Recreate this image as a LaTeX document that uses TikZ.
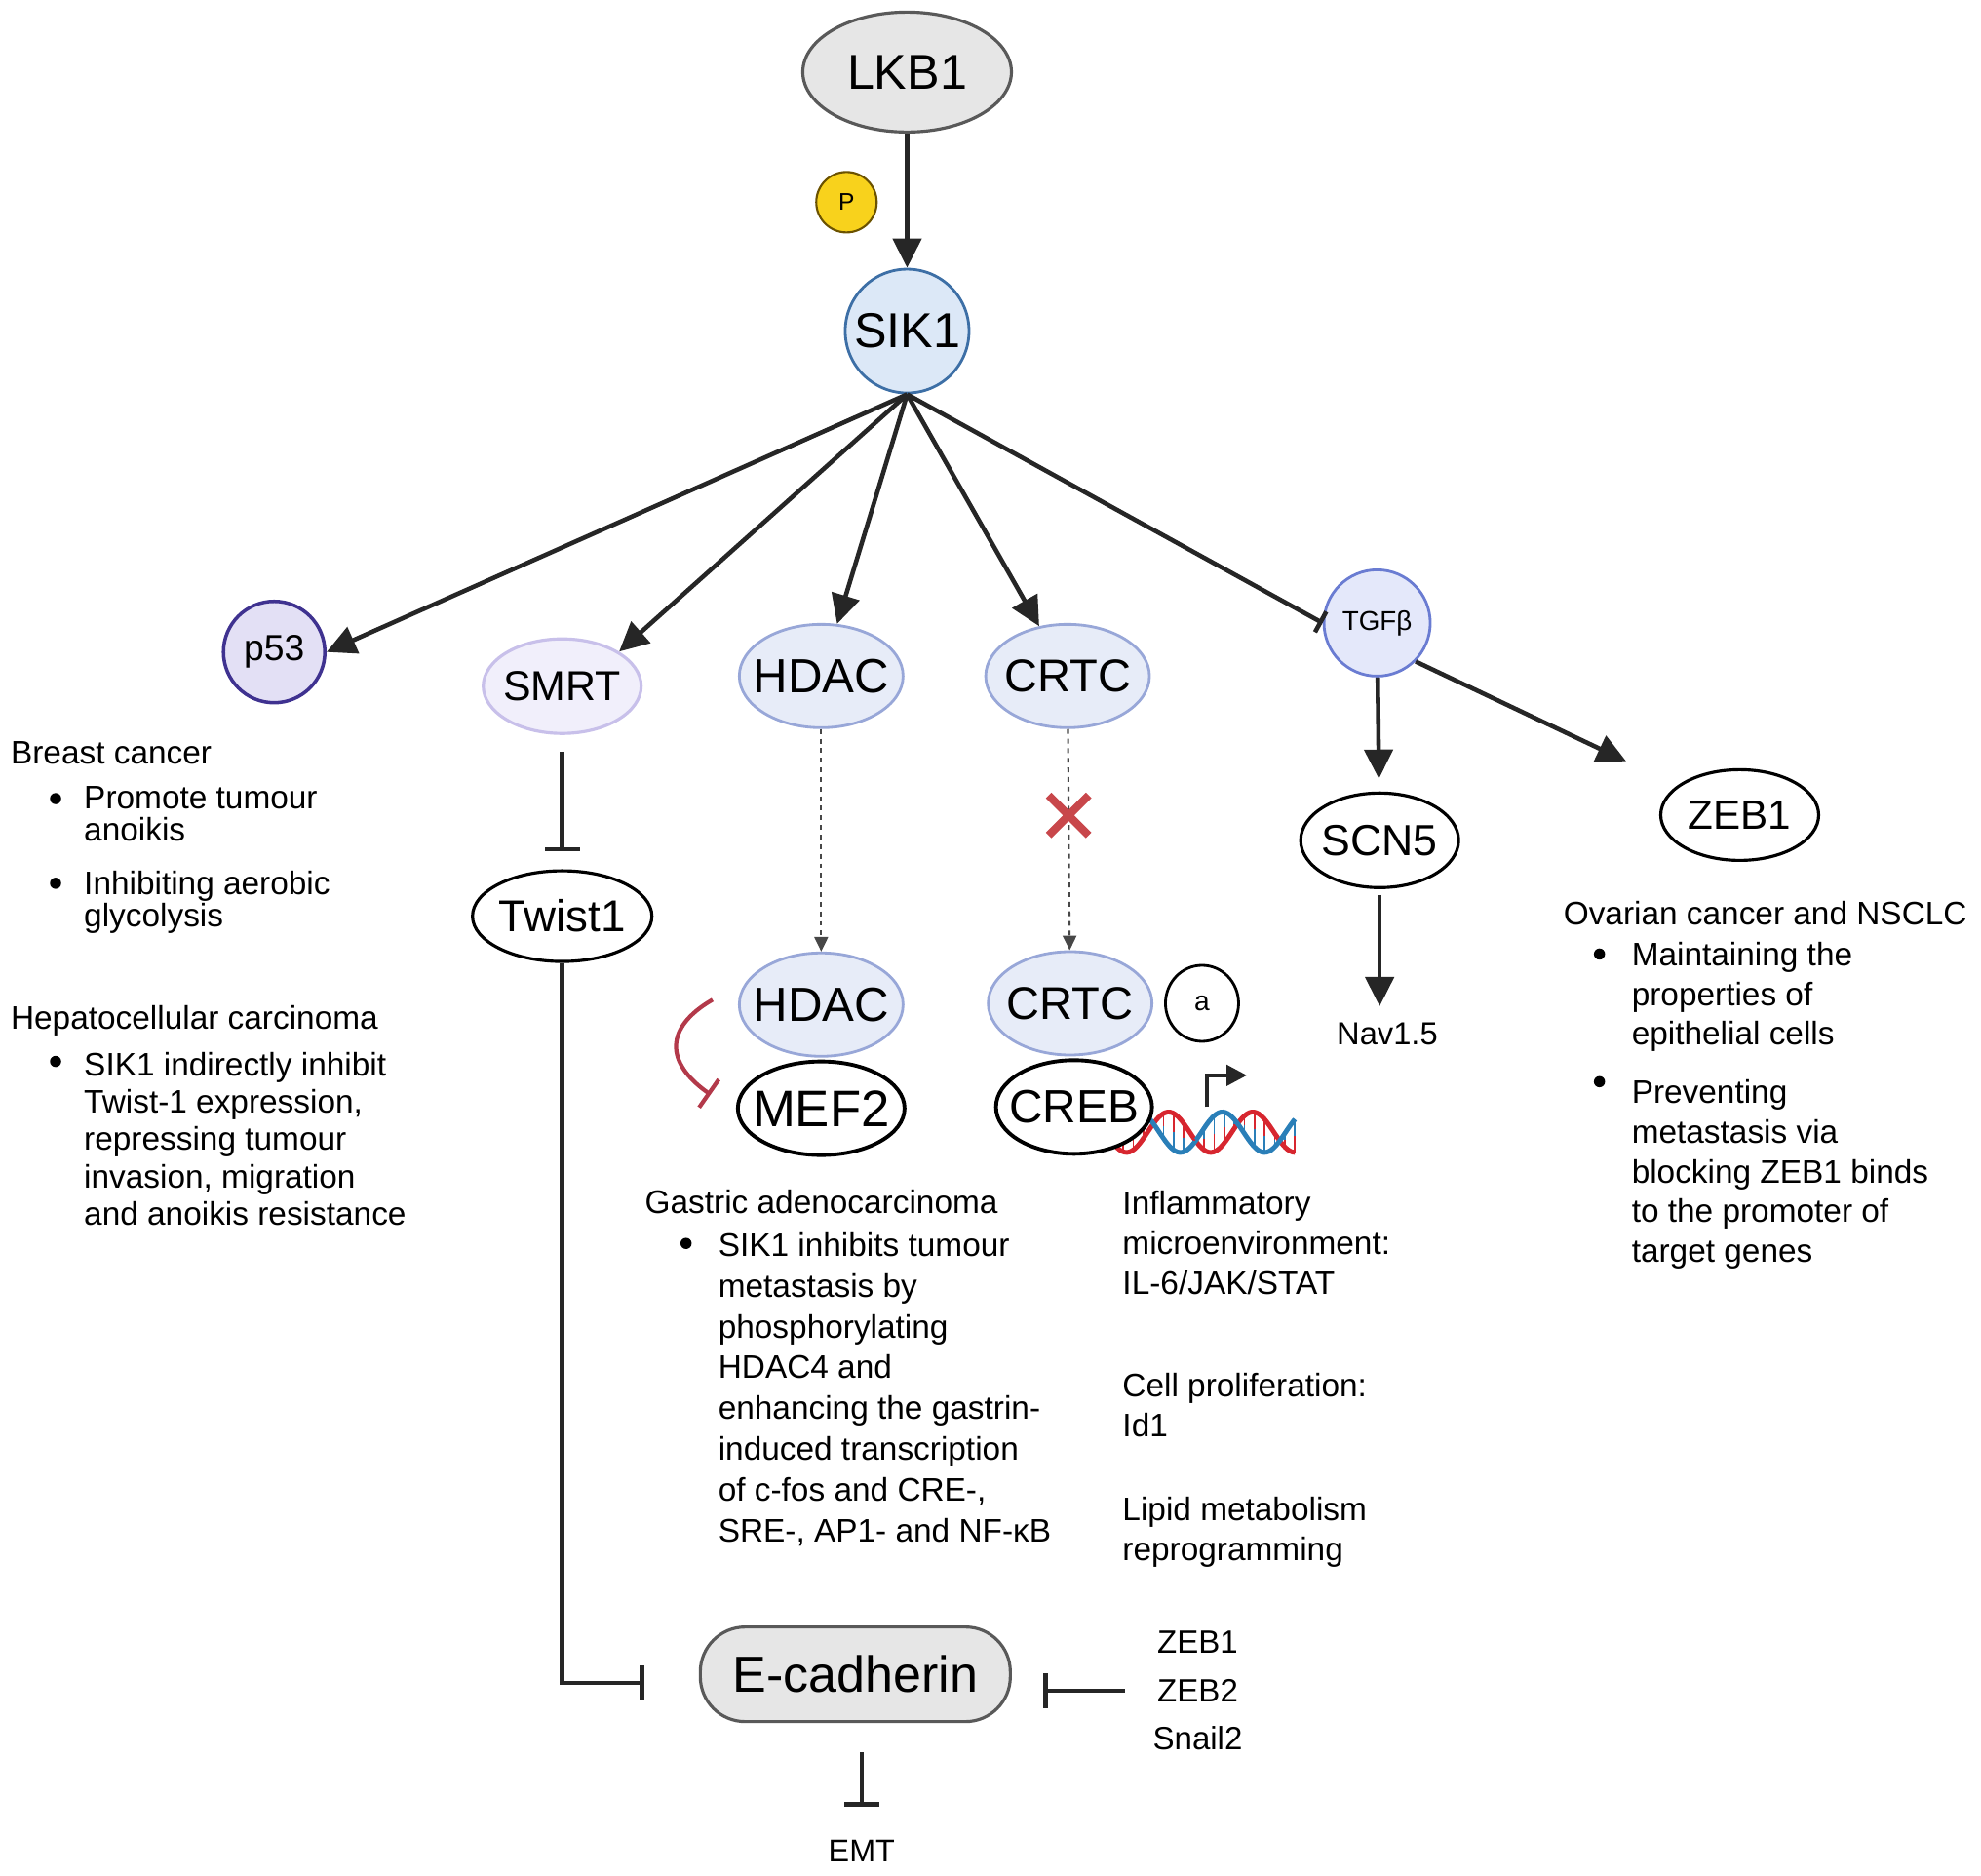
\documentclass[tikz,border=0pt]{standalone}
\usepackage{fontspec}
\setmainfont{Liberation Sans}
\usetikzlibrary{arrows.meta, positioning, shapes.geometric, shapes.misc}

\definecolor{inkline}{HTML}{262626}
\definecolor{lkbfill}{HTML}{E6E6E6}
\definecolor{lkbdraw}{HTML}{595959}
\definecolor{sikfill}{HTML}{DCE8F7}
\definecolor{sikdraw}{HTML}{3D6FA6}
\definecolor{p53fill}{HTML}{E3E0F5}
\definecolor{p53draw}{HTML}{3F3290}
\definecolor{smrtfill}{HTML}{F1EFFB}
\definecolor{smrtdraw}{HTML}{C8C0EA}
\definecolor{hdacfill}{HTML}{E7ECF8}
\definecolor{hdacdraw}{HTML}{98A7D8}
\definecolor{tgffill}{HTML}{E4E8FA}
\definecolor{tgfdraw}{HTML}{6A7CD2}
\definecolor{phosfill}{HTML}{F8D21C}
\definecolor{phosdraw}{HTML}{6B5200}
\definecolor{blockred}{HTML}{B3394A}
\definecolor{crossred}{HTML}{C8474B}
\definecolor{dnared}{HTML}{D7262F}
\definecolor{dnablue}{HTML}{2A7FB8}

\begin{document}
\begin{tikzpicture}[x=0.1296mm, y=-0.1296mm, inner sep=0pt]
\tikzstyle{protein}=[ellipse, draw=black, line width=0.9pt, inner xsep=-2mm, inner ysep=-1mm]
\tikzstyle{complex}=[protein, fill=hdacfill, draw=hdacdraw, line width=0.8pt, minimum width=16.8mm, minimum height=10.6mm]
\tikzstyle{partner}=[protein, fill=white, line width=1.1pt, minimum height=9.6mm]
\tikzstyle{activates}=[draw=inkline, line width=1.3pt, -{Triangle[length=3mm, width=2.9mm]}]
\tikzstyle{inhibits}=[draw=inkline, line width=1.3pt, -{Bar[width=3.6mm]}]
\tikzstyle{binds}=[draw=inkline!85, line width=0.6pt, dash pattern=on 1.4pt off 1.4pt, -{Triangle[length=1.5mm, width=1.4mm]}]
\tikzstyle{note}=[anchor=north west, align=left, font=\fontsize{9.5}{11.6}\selectfont]
\tikzstyle{bulletmark}=[circle, fill=black, minimum size=1.15mm]

\useasboundingbox (0,0) rectangle (1568,1484);

% DNA and transcription start
\draw[dnared, line width=1.4pt] plot[domain=0:150, samples=80, smooth] ({875+\x}, {896+16*sin(\x*5.4)});
\draw[dnablue, line width=1.4pt] plot[domain=0:150, samples=80, smooth] ({875+\x}, {896+16*sin(\x*5.4+130)});
\foreach \i in {6,14,...,150} {
  \draw[dnared, line width=0.5pt] ({875+\i}, {896+16*sin(\i*5.4)}) -- ({875+\i}, {896+8*sin(\i*5.4)+8*sin(\i*5.4+130)});
  \draw[dnablue, line width=0.5pt] ({875+\i}, {896+8*sin(\i*5.4)+8*sin(\i*5.4+130)}) -- ({875+\i}, {896+16*sin(\i*5.4+130)});
}
\draw[inkline, line width=1.2pt, -{Triangle[length=2.1mm, width=2.1mm]}] (955,876) -- (955,851) -- (987,851);

% top of the pathway
\node[protein, fill=lkbfill, draw=lkbdraw, minimum width=21.4mm, minimum height=12.3mm, font=\fontsize{14.3}{14.3}\selectfont] (lkb1) at (718,57) {LKB1};
\node[circle, fill=phosfill, draw=phosdraw, line width=0.6pt, minimum size=6.2mm, font=\fontsize{7}{7}\selectfont] (phos) at (670,160) {P};
\node[circle, fill=sikfill, draw=sikdraw, line width=0.8pt, minimum size=12.7mm, font=\fontsize{14.3}{14.3}\selectfont] (sik1) at (718,262) {SIK1};

% targets of SIK1
\node[circle, fill=p53fill, draw=p53draw, line width=1pt, minimum size=10.4mm, font=\fontsize{10.6}{10.6}\selectfont] (p53) at (217,516) {p53};
\node[protein, fill=smrtfill, draw=smrtdraw, line width=0.9pt, minimum width=16.2mm, minimum height=9.7mm, font=\fontsize{12.2}{12.2}\selectfont] (smrt) at (445,543) {SMRT};
\node[complex, font=\fontsize{14}{14}\selectfont] (hdac) at (650,535) {HDAC};
\node[complex, font=\fontsize{13.4}{13.4}\selectfont] (crtc) at (845,535) {CRTC};
\node[circle, fill=tgffill, draw=tgfdraw, line width=0.8pt, minimum size=10.9mm, font=\fontsize{7.9}{7.9}\selectfont] (tgfb) at (1090,493) {TGFβ};
\node[protein, minimum width=16.2mm, minimum height=9.7mm, font=\fontsize{12.7}{12.7}\selectfont] (scn5) at (1092,665) {SCN5};
\node[protein, minimum width=16.2mm, minimum height=9.3mm, font=\fontsize{12}{12}\selectfont] (zeb1) at (1377,645) {ZEB1};
\node[font=\fontsize{9.3}{9.3}\selectfont] (nav) at (1098,818) {Nav1.5};
\node[protein, minimum width=18.4mm, minimum height=9.3mm, font=\fontsize{13}{13}\selectfont] (twist1) at (445,725) {Twist1};

% complexes
\node[complex, font=\fontsize{14}{14}\selectfont] (hdacb) at (650,795) {HDAC};
\node[partner, minimum width=17.1mm, font=\fontsize{15}{15}\selectfont] (mef2) [below = 0.2mm of hdacb] {MEF2};
\node[complex, font=\fontsize{13.4}{13.4}\selectfont] (crtcb) at (847,794) {CRTC};
\node[partner, minimum width=16mm, font=\fontsize{13.6}{13.6}\selectfont] (creb) [below = 0.2mm of crtcb, xshift=0.4mm] {CREB};
\node[protein, line width=0.8pt, minimum width=7.5mm, minimum height=7.8mm, font=\fontsize{8}{8}\selectfont] (acoact) [right = 1.1mm of crtcb] {a};

% E-cadherin
\node[rectangle, rounded corners=4.6mm, fill=lkbfill, draw=lkbdraw, line width=0.9pt, minimum width=31.8mm, minimum height=9.7mm, font=\fontsize{14.8}{14.8}\selectfont] (ecad) at (677,1325) {E-cadherin};
\node[align=center, inner xsep=2.8mm, font=\fontsize{9.4}{14}\selectfont] (zebs) at (948,1338) {ZEB1\\ZEB2\\Snail2};
\node[font=\fontsize{9.2}{9.2}\selectfont] (emt) at (682,1465) {EMT};

% connectors
\draw[activates] (lkb1) -- (sik1);
\draw[activates] (sik1.south) -- (p53.east);
\draw[activates] (sik1.south) -- (smrt.north east);
\draw[activates] (sik1.south) -- (hdac);
\draw[activates] (sik1.south) -- (crtc);
\draw[inhibits, -{Bar[width=2.4mm]}] (sik1.south) -- (tgfb.west);
\draw[activates, shorten >=1.3mm] (tgfb) -- (scn5);
\draw[activates, shorten >=5.8mm] (tgfb.south east) -- (zeb1);
\draw[activates, shorten <=0.6mm, shorten >=1.6mm] (scn5) -- (scn5 |- nav.north);
\draw[inhibits, shorten <=1.7mm, shorten >=1.8mm] (smrt) -- (twist1);
\draw[inhibits, shorten >=5.6mm] (twist1) |- ([yshift=-0.9mm]ecad.west);
\draw[inhibits, shorten >=3.2mm] (zebs.west) -- (zebs.west -| ecad.east);
\draw[inhibits, shorten <=3mm, shorten >=3.4mm] (emt |- ecad.south) -- (emt);
\draw[binds] (hdac) -- (hdacb);
\draw[binds] (crtc) -- (crtcb) node[pos=0.39, solid, cross out, draw=crossred, line width=2.3pt, minimum size=3.3mm] (block) {};
\draw[blockred, line width=1.2pt, -{Bar[width=3.5mm]}] ([xshift=-2.6mm, yshift=0.5mm]hdacb.west) to[out=210, in=145, looseness=1.5] ([xshift=-2.6mm, yshift=1.4mm]mef2.west);

% text blocks
\node[note] (bc) at (8,586) {Breast cancer};
\node[bulletmark] (bcdot1) at (44,632) {};
\node[note, font=\fontsize{9.5}{9.2}\selectfont] (bc1) at (66,622) {Promote tumour\\anoikis};
\node[bulletmark] (bcdot2) at (44,699) {};
\node[note, font=\fontsize{9.5}{9.2}\selectfont] (bc2) at (66,689) {Inhibiting aerobic\\glycolysis};

\node[note] (hcc) at (8,795) {Hepatocellular carcinoma};
\node[bulletmark] (hccdot) at (44,840) {};
\node[note, font=\fontsize{9.5}{10.9}\selectfont] (hcc1) at (66,832) {SIK1 indirectly inhibit\\Twist-1 expression,\\repressing tumour\\invasion, migration\\and anoikis resistance};

\node[note] (gac) at (510,941) {Gastric adenocarcinoma};
\node[bulletmark] (gacdot) at (543,984) {};
\node[note, font=\fontsize{9.5}{11.9}\selectfont] (gac1) at (568,975) {SIK1 inhibits tumour\\metastasis by\\phosphorylating\\HDAC4 and\\enhancing the gastrin-\\induced transcription\\of c-fos and CRE-,\\SRE-, AP1- and NF-κB};

\node[note] (inflam) at (888,942) {Inflammatory\\microenvironment:\\IL-6/JAK/STAT};
\node[note] (prolif) at (888,1086) {Cell proliferation:\\Id1};
\node[note] (lipid) at (888,1184) {Lipid metabolism\\reprogramming};

\node[note] (ovc) at (1237,713) {Ovarian cancer and NSCLC};
\node[bulletmark] (ovcdot1) at (1266,755) {};
\node[note] (ovc1) at (1291,745) {Maintaining the\\properties of\\epithelial cells};
\node[bulletmark] (ovcdot2) at (1266,856) {};
\node[note] (ovc2) at (1291,854) {Preventing\\metastasis via\\blocking ZEB1 binds\\to the promoter of\\target genes};
\end{tikzpicture}
\end{document}
